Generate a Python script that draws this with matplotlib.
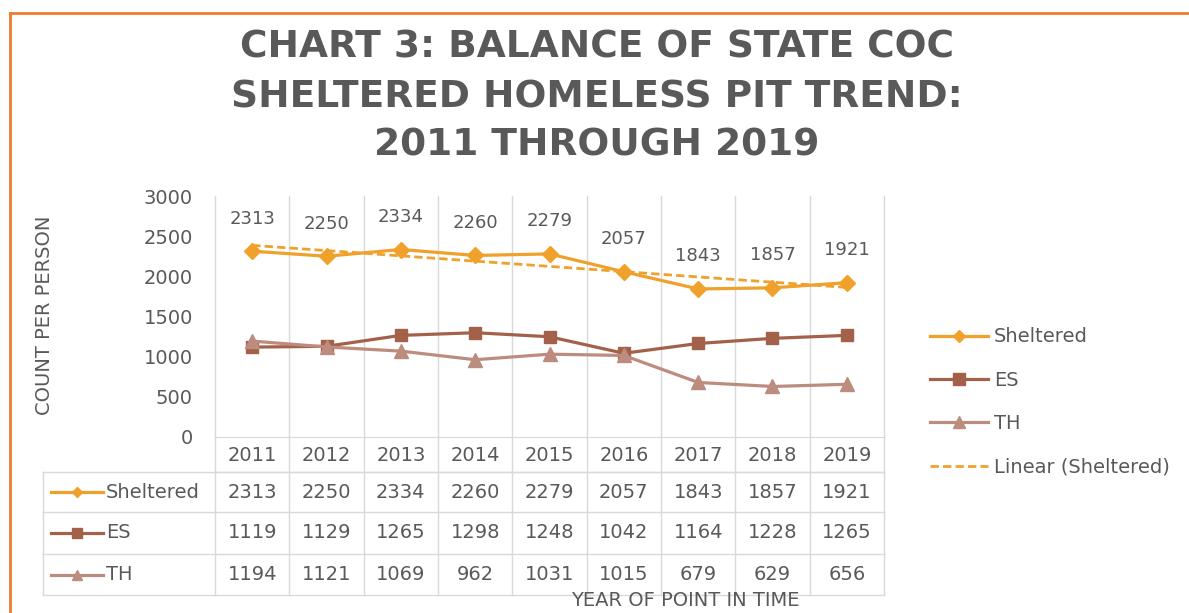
import numpy as np
import matplotlib.pyplot as plt
from matplotlib.lines import Line2D

# dados
years = ['2011', '2012', '2013', '2014', '2015', '2016', '2017', '2018', '2019']
sheltered = [2313, 2250, 2334, 2260, 2279, 2057, 1843, 1857, 1921]
es = [1119, 1129, 1265, 1298, 1248, 1042, 1164, 1228, 1265]
th = [1194, 1121, 1069, 962, 1031, 1015, 679, 629, 656]
series_names = ['Sheltered', 'ES', 'TH']

c_sh = '#EFA12C'
c_es = '#A4614A'
c_th = '#BC8C7F'
gray = '#595959'
grid = '#D9D9D9'
plt.rcParams['font.family'] = ['DejaVu Sans']

W, H = 1189, 613
fig = plt.figure(figsize=(W / 100, H / 100), dpi=100)

def fx(px):
    return px / W

def fy(py):
    return 1 - py / H

# moldura laranja
fig.add_artist(Line2D([fx(10), 1], [fy(13), fy(13)], color='#ED7D31', lw=2))
fig.add_artist(Line2D([fx(10), fx(10)], [fy(13), 0], color='#ED7D31', lw=2))

# titulo
title_lines = ['CHART 3: BALANCE OF STATE COC',
               'SHELTERED HOMELESS PIT TREND:',
               '2011 THROUGH 2019']
for i, t in enumerate(title_lines):
    fig.text(fx(597), fy(48 + 49 * i), t, ha='center', va='center',
             fontsize=27, fontweight='bold', color=gray)

# grafico principal
x = np.arange(len(years))
left, right, top, bottom = 215, 884, 196, 437
ax = fig.add_axes([fx(left), fy(bottom), fx(right - left), (bottom - top) / H])
ax.set_xlim(-0.5, len(years) - 0.5)
ax.set_ylim(0, 3000)

ax.plot(x, sheltered, color=c_sh, lw=2.3, marker='D', ms=8, label='Sheltered')
ax.plot(x, es, color=c_es, lw=2.3, marker='s', ms=9, label='ES')
ax.plot(x, th, color=c_th, lw=2.3, marker='^', ms=10, label='TH')
coef = np.polyfit(x, sheltered, 1)
ax.plot(x, np.polyval(coef, x), color=c_sh, lw=2, ls=(0, (3, 1.5)),
        label='Linear (Sheltered)')

for xi, v in zip(x, sheltered):
    ax.annotate(str(v), (xi, v), xytext=(0, 17), textcoords='offset points',
                ha='center', va='bottom', fontsize=13, color=gray)

ax.set_yticks(range(0, 3001, 500))
ax.set_xticks([])
for xb in np.arange(-0.5, len(years), 1):
    ax.axvline(xb, color=grid, lw=1, zorder=0, clip_on=False)
for s in ['top', 'right', 'left']:
    ax.spines[s].set_visible(False)
ax.spines['bottom'].set_color(grid)
ax.tick_params(axis='y', length=0, labelsize=14, labelcolor=gray, pad=16)

fig.text(fx(45), fy(315), 'COUNT PER PERSON', rotation=90, ha='center',
         va='center', fontsize=14, color=gray)
fig.text(fx(685), fy(600), 'YEAR OF POINT IN TIME', ha='center',
         va='center', fontsize=14, color=gray)

# legenda
leg_handles = [
    Line2D([], [], color=c_sh, lw=2.3, marker='D', ms=6),
    Line2D([], [], color=c_es, lw=2.3, marker='s', ms=8),
    Line2D([], [], color=c_th, lw=2.3, marker='^', ms=8),
    Line2D([], [], color=c_sh, lw=2, ls=(0, (3, 1.5))),
]
leg_labels = series_names + ['Linear (Sheltered)']
fig.legend(leg_handles, leg_labels, loc='upper left', bbox_to_anchor=(fx(912), fy(310)),
           frameon=False, fontsize=14, labelcolor=gray, handlelength=3,
           labelspacing=1.25, handletextpad=0.3)

# tabela de dados
t_left, t_bottom = 43, 595
colw = (right - left) / len(years)
lab_w = (left - t_left) / colw
tax = fig.add_axes([fx(t_left), fy(t_bottom), fx(right - t_left), (t_bottom - bottom) / H])
tax.set_xlim(-0.5 - lab_w, len(years) - 0.5)
tax.set_ylim(t_bottom - bottom, 0)
tax.axis('off')
rows = [0, 35, 75, 117, 158]
xl = -0.5 - lab_w
for xb in np.arange(-0.5, len(years), 1):
    tax.plot([xb, xb], [0, rows[-1]], color=grid, lw=1, clip_on=False)
tax.plot([xl, xl], [rows[1], rows[-1]], color=grid, lw=1, clip_on=False)
tax.plot([-0.5, len(years) - 0.5], [rows[1], rows[1]], color=grid, lw=1, clip_on=False)
for r in rows[1:]:
    tax.plot([xl, len(years) - 0.5], [r, r], color=grid, lw=1, clip_on=False)
for xi, yr in zip(x, years):
    tax.text(xi, (rows[0] + rows[1]) / 2 + 1, yr, ha='center', va='center',
             fontsize=14, color=gray)
table_data = [sheltered, es, th]
keys = [(c_sh, 'D', 5), (c_es, 's', 7), (c_th, '^', 7)]
for i, (name, vals, (c, m, ms)) in enumerate(zip(series_names, table_data, keys)):
    yc = (rows[i + 1] + rows[i + 2]) / 2
    k0 = xl + 8 / colw
    k1 = xl + 60 / colw
    tax.plot([k0, k1], [yc, yc], color=c, lw=2.3)
    tax.plot([(k0 + k1) / 2], [yc], color=c, marker=m, ms=ms)
    tax.text(k1 + 3 / colw, yc, name, ha='left', va='center', fontsize=14, color=gray)
    for xi, v in zip(x, vals):
        tax.text(xi, yc, str(v), ha='center', va='center', fontsize=14, color=gray)

fig.savefig('out.png', dpi=100)
